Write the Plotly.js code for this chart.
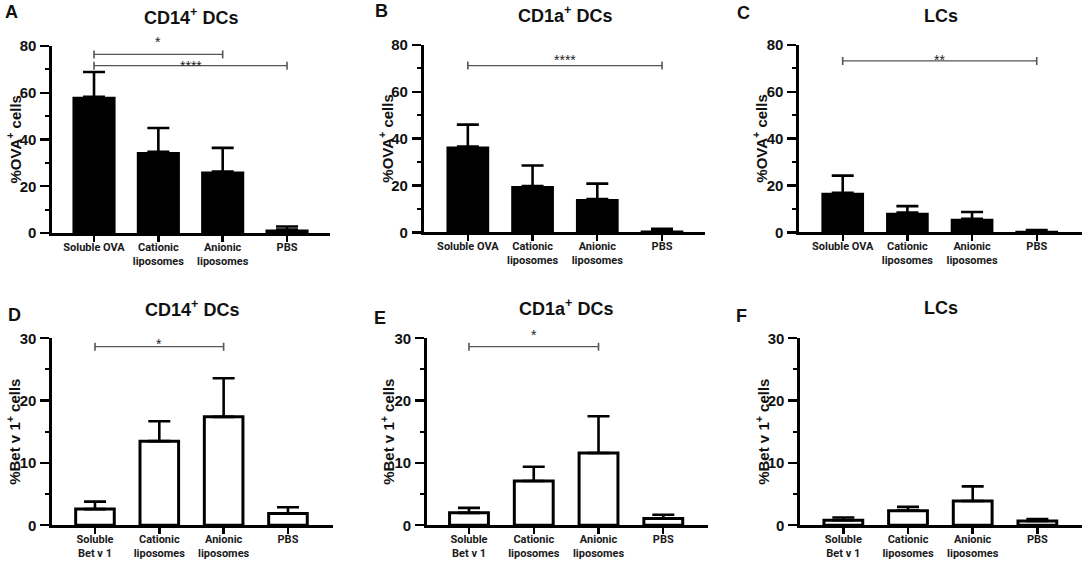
<!DOCTYPE html>
<html>
<head>
<meta charset="utf-8">
<script src="https://cdn.plot.ly/plotly-3.0.1.min.js"></script>
<style>html,body{margin:0;padding:0;background:#fff;}#chart{width:1084px;height:562px;}</style>
</head>
<body>
<div id="chart"></div>
<script>
// ---------- data ----------
const catsOVA = ['Soluble OVA', 'Cationic<br>liposomes', 'Anionic<br>liposomes', 'PBS'];
const catsBet = ['Soluble<br>Bet v 1', 'Cationic<br>liposomes', 'Anionic<br>liposomes', 'PBS'];

const valA = [58.3, 34.7, 26.3, 1.5];
const errA = [10.6, 10.2, 10.1, 1.3];
const valB = [36.6, 19.8, 14.2, 0.8];
const errB = [9.4, 8.7, 6.6, 0.7];
const valC = [16.9, 8.4, 5.8, 0.7];
const errC = [7.3, 2.8, 2.9, 0.3];
const valD = [2.6, 13.5, 17.4, 1.9];
const errD = [1.2, 3.2, 6.2, 1.0];
const valE = [2.0, 7.1, 11.6, 1.1];
const errE = [0.8, 2.3, 5.9, 0.6];
const valF = [0.8, 2.35, 3.9, 0.7];
const errF = [0.45, 0.6, 2.35, 0.3];

const titles = ['CD14<sup>+</sup> DCs', 'CD1a<sup>+</sup> DCs', 'LCs', 'CD14<sup>+</sup> DCs', 'CD1a<sup>+</sup> DCs', 'LCs'];
const letters = ['A', 'B', 'C', 'D', 'E', 'F'];
const yTitleOVA = '%OVA<sup>+</sup> cells';
const yTitleBet = '%Bet v 1<sup>+</sup> cells';

// significance brackets: from index, to index, y value, label
const sigA = {from: [0, 0], to: [2, 3], y: [76.4, 71.6], label: ['*', '****']};
const sigB = {from: [0], to: [3], y: [71.2], label: ['****']};
const sigC = {from: [0], to: [3], y: [73.2], label: ['**']};
const sigD = {from: [0], to: [2], y: [28.65], label: ['*']};
const sigE = {from: [0], to: [2], y: [28.66], label: ['*']};
const sigF = {from: [], to: [], y: [], label: []};

// ---------- layout geometry (pixels) ----------
const W = 1084, H = 562;
const FONT = 'Liberation Sans, Arial, sans-serif';
const CATFONT = 'Roboto, Liberation Sans, Arial, sans-serif';
const panels = [
  {vals: valA, errs: errA, cats: catsOVA, sig: sigA, filled: true,  bw: 0.67, ymax: 80, dt: 20, mdt: 10, xpx: [52, 330],   ypx: [46, 233],     xr: [-0.653, 3.668], yt: yTitleOVA, ytx: 14,  tx: 191, ty: 16,  lx: 11,  ly: 12, labShift: [12, 0]},
  {vals: valB, errs: errB, cats: catsOVA, sig: sigB, filled: true,  bw: 0.66, ymax: 80, dt: 20, mdt: 10, xpx: [423.5, 705], ypx: [45, 232.3],   xr: [-0.685, 3.664], yt: yTitleOVA, ytx: 386, tx: 565, ty: 15,  lx: 381, ly: 11, labShift: [6]},
  {vals: valC, errs: errC, cats: catsOVA, sig: sigC, filled: true,  bw: 0.66, ymax: 80, dt: 20, mdt: 10, xpx: [799, 1082],  ypx: [45, 232.3],   xr: [-0.676, 3.70],  yt: yTitleOVA, ytx: 760, tx: 941, ty: 16,  lx: 743, ly: 13, labShift: [1]},
  {vals: valD, errs: errD, cats: catsBet, sig: sigD, filled: false, bw: 0.60, ymax: 30, dt: 10, mdt: 5,  xpx: [52, 333],    ypx: [338.3, 525.3], xr: [-0.668, 3.70],  yt: yTitleBet, ytx: 14,  tx: 192, ty: 308, lx: 14,  ly: 315, labShift: [3]},
  {vals: valE, errs: errE, cats: catsBet, sig: sigE, filled: false, bw: 0.60, ymax: 30, dt: 10, mdt: 5,  xpx: [426.7, 708.3], ypx: [338.3, 525.3], xr: [-0.653, 3.695], yt: yTitleBet, ytx: 388, tx: 566, ty: 307, lx: 380, ly: 318, labShift: [12]},
  {vals: valF, errs: errF, cats: catsBet, sig: sigF, filled: false, bw: 0.60, ymax: 30, dt: 10, mdt: 5,  xpx: [800, 1082],  ypx: [338.3, 525.3], xr: [-0.670, 3.69],  yt: yTitleBet, ytx: 763, tx: 941, ty: 308, lx: 741, ly: 316, labShift: []}
];

const px2x = p => p / W;
const py2y = p => 1 - p / H;

const traces = [];
const layout = {
  width: W, height: H,
  margin: {l: 0, r: 0, t: 0, b: 0},
  paper_bgcolor: '#fff', plot_bgcolor: 'rgba(0,0,0,0)',
  showlegend: false,
  font: {family: FONT, color: '#111'},
  shapes: [], annotations: []
};

panels.forEach((p, i) => {
  const n = i + 1;
  const xa = 'xaxis' + (n === 1 ? '' : n), ya = 'yaxis' + (n === 1 ? '' : n);
  const xr = 'x' + (n === 1 ? '' : n), yr = 'y' + (n === 1 ? '' : n);
  traces.push({
    type: 'bar', x: p.cats, y: p.vals, xaxis: xr, yaxis: yr,
    width: p.bw,
    marker: {color: p.filled ? '#000' : '#fff', line: {color: '#000', width: p.filled ? 0 : 3}},
    error_y: {type: 'data', symmetric: false, array: p.errs, arrayminus: p.errs.map(() => 0),
              color: '#000', thickness: 2.6, width: 11},
    hoverinfo: 'skip'
  });
  layout[xa] = {
    domain: [px2x(p.xpx[0]), px2x(p.xpx[1])], anchor: yr,
    type: 'category', range: p.xr, fixedrange: true, tickangle: 0,
    showline: true, linecolor: '#000', linewidth: 2.6, showgrid: false, zeroline: false,
    ticks: 'outside', ticklen: 6, tickwidth: 2.4, tickcolor: '#000', ticklabelstandoff: -4,
    tickfont: {family: CATFONT, size: 11, color: '#1a1a1a', weight: 'bold'}
  };
  layout[ya] = {
    domain: [py2y(p.ypx[1]), py2y(p.ypx[0])], anchor: xr,
    range: [0, p.ymax], dtick: p.dt, tick0: 0, fixedrange: true,
    showline: true, linecolor: '#000', linewidth: 2.6, showgrid: false, zeroline: false,
    ticks: 'outside', ticklen: 9, tickwidth: 2.4, tickcolor: '#000', ticklabelstandoff: 1,
    tickfont: {family: FONT, size: 15, color: '#111', weight: 'bold'},
    minor: {dtick: p.mdt, tick0: 0, ticks: 'outside', ticklen: 4, tickwidth: 2, tickcolor: '#000', showgrid: false}
  };
  // significance brackets
  p.sig.y.forEach((yy, k) => {
    const x0 = p.sig.from[k], x1 = p.sig.to[k];
    layout.shapes.push({type: 'line', xref: xr, yref: yr, x0: x0, x1: x1, y0: yy, y1: yy,
                        line: {color: '#555', width: 1.3}});
    [x0, x1].forEach(xx => layout.shapes.push({type: 'line', xref: xr, yref: yr, ysizemode: 'pixel', yanchor: yy,
                        x0: xx, x1: xx, y0: -4, y1: 4, line: {color: '#555', width: 1.6}}));
    layout.annotations.push({xref: xr, yref: yr, x: (x0 + x1) / 2, y: yy, text: p.sig.label[k],
                             showarrow: false, yanchor: 'middle', yshift: p.labShift[k],
                             font: {family: FONT, size: 14, color: '#222'}});
  });
  // titles
  layout.annotations.push({xref: 'paper', yref: 'paper', x: px2x(p.tx), y: py2y(p.ty), text: titles[i],
                           showarrow: false, xanchor: 'center', yanchor: 'middle',
                           font: {family: FONT, size: 18, color: '#111', weight: 'bold'}});
  layout.annotations.push({xref: 'paper', yref: 'paper', x: px2x(p.lx), y: py2y(p.ly), text: letters[i],
                           showarrow: false, xanchor: 'center', yanchor: 'middle',
                           font: {family: FONT, size: 18, color: '#111', weight: 'bold'}});
  layout.annotations.push({xref: 'paper', yref: 'paper', x: px2x(p.ytx), y: (py2y(p.ypx[0]) + py2y(p.ypx[1])) / 2,
                           text: p.yt, textangle: -90, showarrow: false, xanchor: 'center', yanchor: 'middle',
                           font: {family: FONT, size: 15, color: '#111', weight: 'bold'}});
});

Plotly.newPlot('chart', traces, layout, {displayModeBar: false, staticPlot: true});
</script>
</body>
</html>
